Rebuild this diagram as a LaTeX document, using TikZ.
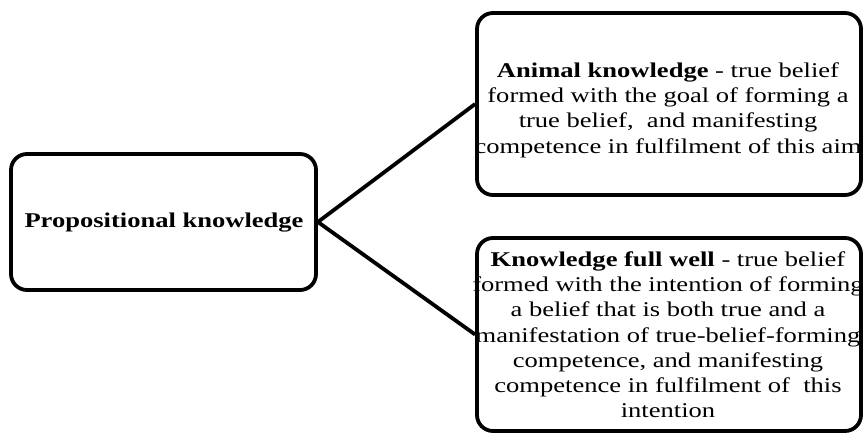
\documentclass[tikz,border=0pt]{standalone}
\usepackage{fontspec}
\setmainfont[FakeStretch=1.264]{Liberation Serif}
\begin{document}
\begin{tikzpicture}[x=1pt,y=-1pt,
  box/.style={draw=black,line width=3.8pt,rounded corners=16pt,fill=white,inner sep=0pt},
  txt/.style={align=center,inner sep=0pt,font=\fontsize{21}{25.3}\selectfont},
  link/.style={line width=3.8pt}]
\useasboundingbox (0,0) rectangle (866,434);
\node[box,minimum width=305pt,minimum height=136pt] (prop) at (163.5,222) {};
\node[box,minimum width=384pt,minimum height=182pt] (animal) at (669,104) {};
\node[box,minimum width=384pt,minimum height=193pt] (full) at (669,334.5) {};
\draw[link] (prop.east) -- (animal.west);
\draw[link] (prop.east) -- (full.west);
\node[txt] (proptext) at (164,222.2) {\textbf{Propositional knowledge}};
\node[txt] (animaltext) at (668,110) {\textbf{Animal knowledge} - true belief\\formed with the goal of forming a\\true belief, \ and manifesting\\competence in fulfilment of this aim};
\node[txt] (fulltext) at (668,334.8) {\textbf{Knowledge full well} - true belief\\formed with the intention of forming\\a belief that is both true and a\\manifestation of true-belief-forming\\competence, and manifesting\\competence in fulfilment of \ this\\intention};
\end{tikzpicture}
\end{document}
